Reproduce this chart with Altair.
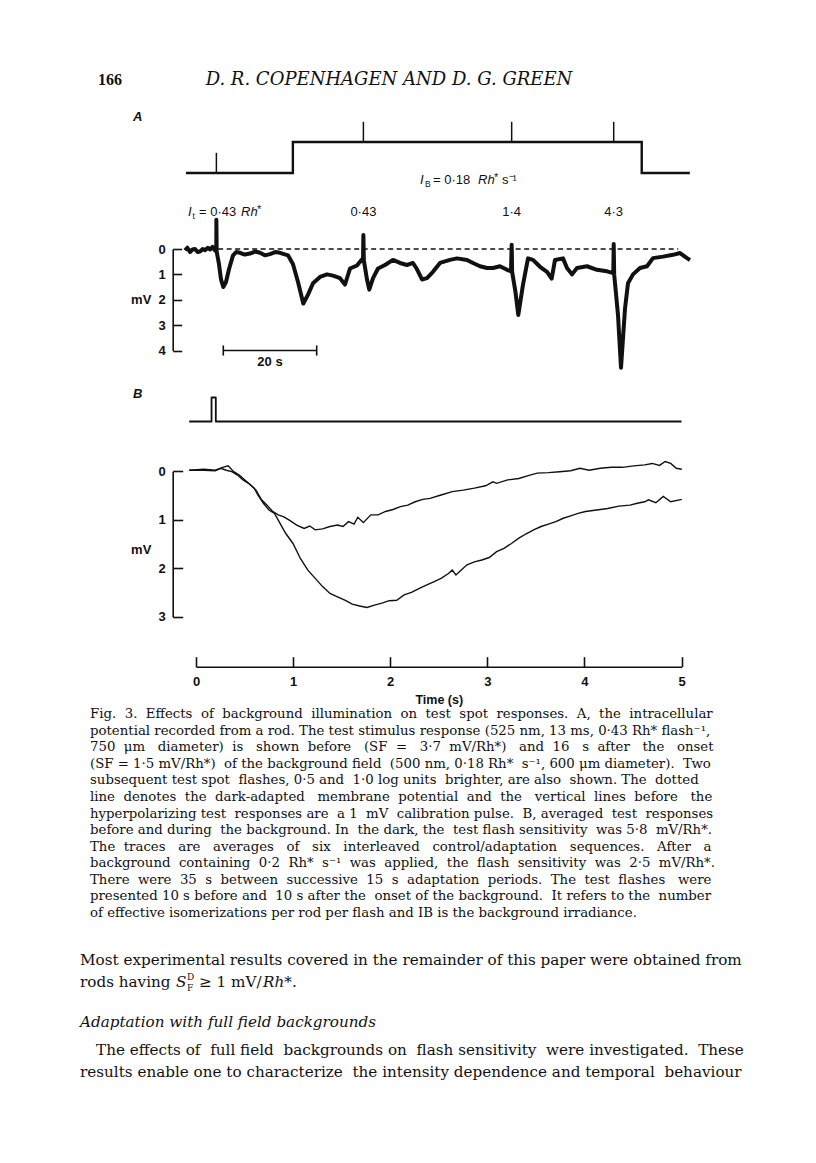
import altair as alt
import pandas as pd

# ---------------- data ----------------
# Panel A: stimulus protocol (time in s, level 0 = dark, 1 = background on)
a_stim_t = [0.2, 23.1, 23.1, 97.8, 97.8, 108.1]
a_stim_level = [0, 0, 1, 1, 0, 0]
# test flashes (time in s) and the stimulus level they sit on
a_flash_t = [6.72, 38.2, 69.95, 91.8]
a_flash_level = [0, 1, 1, 1]
a_flash_labels = ["", "0·43", "1·4", "4·3"]

# Panel A: intracellular recording (time s, hyperpolarisation mV, downward positive)
a_rec = [
    (0.0, 0.05), (0.5, -0.05), (1.07, 0.12), (1.6, 0.02), (2.14, 0.0), (2.7, 0.12),
    (3.21, 0.1), (3.8, 0.0), (4.28, 0.05), (4.9, -0.05), (5.35, 0.02), (5.9, -0.08),
    (6.42, 0.05), (6.7, 0.1), (6.72, -1.15), (6.78, 0.1),
    (7.28, 0.6), (7.71, 1.2), (8.2, 1.5), (8.78, 1.3), (9.42, 0.8), (10.28, 0.25),
    (11.0, 0.12), (11.78, 0.15), (12.8, 0.22), (13.92, 0.18), (15.0, 0.1), (16.06, 0.15),
    (17.1, 0.25), (18.2, 0.2), (19.3, 0.12), (20.34, 0.15), (21.2, 0.2), (22.06, 0.25),
    (23.13, 0.6), (24.2, 1.3), (25.33, 2.15), (26.34, 1.8), (27.41, 1.35), (28.91, 1.1),
    (30.41, 1.0), (31.69, 1.05), (33.19, 1.15), (34.26, 1.4), (35.33, 0.77), (36.83, 0.65),
    (37.69, 0.45), (38.12, 0.37), (38.2, -0.55), (38.3, 0.45),
    (38.97, 1.2), (39.46, 1.6), (40.26, 1.15), (41.33, 0.77), (42.83, 0.63), (44.54, 0.43),
    (46.04, 0.55), (47.54, 0.63), (48.82, 0.55), (49.68, 0.8), (50.75, 1.2), (51.82, 1.15),
    (53.1, 0.9), (54.6, 0.55), (56.75, 0.43), (58.24, 0.37), (60.39, 0.43), (61.67, 0.55),
    (63.17, 0.68), (64.67, 0.75), (65.95, 0.75), (67.45, 0.68), (68.95, 0.82), (69.81, 0.88),
    (69.95, -0.17), (70.05, 0.9),
    (70.77, 1.7), (71.37, 2.6), (72.38, 1.4), (73.45, 0.37), (74.52, 0.43), (76.02, 0.7),
    (77.52, 0.9), (78.52, 1.17), (79.23, 0.43), (80.94, 0.37), (81.8, 0.75), (82.87, 1.0),
    (83.94, 0.75), (86.08, 0.68), (88.22, 0.82), (90.36, 0.88), (91.71, 0.95),
    (91.8, -0.2), (91.9, 1.0),
    (92.72, 2.6), (93.36, 4.68), (94.22, 2.35), (94.86, 1.35), (95.93, 1.0), (97.43, 0.75),
    (98.93, 0.68), (100.21, 0.36), (102.36, 0.3), (104.5, 0.23), (106.0, 0.16),
    (107.5, 0.36), (108.14, 0.43),
]
a_dark_level = [(7.1, 105.6, 0.0)]          # dotted dark-adapted potential (from, to, mV)
a_scalebar = [(8.2, 28.2, 4.0, "20 s")]      # 20 s calibration bar
a_mv_ticks = [0, 1, 2, 3, 4]

# Panel B: flash stimulus marker (time s, level)
b_stim_t = [-0.07, 0.16, 0.16, 0.204, 0.204, 5.0]
b_stim_level = [0, 0, 1, 1, 0, 0]

# Panel B: averaged responses (time s, mV)
b_dark_t = [-0.069, 0.083, 0.198, 0.255, 0.312, 0.369, 0.427, 0.484, 0.541, 0.599, 0.637,
            0.694, 0.751, 0.808, 0.847, 0.923, 0.999, 1.075, 1.152, 1.228, 1.304, 1.380,
            1.457, 1.533, 1.609, 1.685, 1.762, 1.838, 1.914, 1.990, 2.067, 2.143, 2.219,
            2.295, 2.372, 2.448, 2.524, 2.600, 2.639, 2.677, 2.715, 2.791, 2.867, 2.944,
            3.020, 3.096, 3.172, 3.249, 3.325, 3.401, 3.477, 3.554, 3.630, 3.706, 3.782,
            3.859, 3.935, 4.011, 4.126, 4.240, 4.355, 4.469, 4.545, 4.621, 4.660, 4.736,
            4.812, 4.889, 5.003]
b_dark_mv = [-0.02, -0.04, -0.02, -0.06, -0.02, 0.01, 0.08, 0.18, 0.25, 0.35, 0.49,
             0.66, 0.80, 0.87, 1.01, 1.28, 1.49, 1.80, 2.04, 2.21, 2.38, 2.52,
             2.59, 2.66, 2.74, 2.78, 2.81, 2.76, 2.72, 2.67, 2.66, 2.55, 2.50,
             2.42, 2.35, 2.28, 2.21, 2.11, 2.04, 2.14, 2.07, 1.93, 1.87, 1.83,
             1.78, 1.66, 1.59, 1.49, 1.38, 1.29, 1.21, 1.14, 1.09, 1.04, 0.97,
             0.92, 0.87, 0.83, 0.80, 0.77, 0.72, 0.70, 0.66, 0.63, 0.59, 0.65,
             0.52, 0.63, 0.58]
b_bg_t = [-0.069, 0.083, 0.198, 0.274, 0.331, 0.388, 0.446, 0.503, 0.560, 0.618, 0.675,
          0.732, 0.789, 0.847, 0.904, 0.961, 1.037, 1.114, 1.171, 1.228, 1.304, 1.380,
          1.457, 1.514, 1.571, 1.628, 1.666, 1.724, 1.800, 1.876, 1.952, 2.029, 2.105,
          2.181, 2.257, 2.334, 2.410, 2.524, 2.639, 2.753, 2.867, 2.982, 3.058, 3.096,
          3.210, 3.325, 3.439, 3.515, 3.630, 3.744, 3.859, 3.954, 4.049, 4.164, 4.278,
          4.393, 4.507, 4.621, 4.698, 4.774, 4.831, 4.889, 4.946, 5.003]
b_bg_mv = [-0.02, -0.02, -0.01, -0.08, -0.11, 0.01, 0.08, 0.18, 0.28, 0.39, 0.59,
           0.70, 0.83, 0.90, 0.94, 1.01, 1.11, 1.18, 1.13, 1.21, 1.19, 1.14,
           1.11, 1.14, 1.04, 1.09, 0.95, 1.06, 0.90, 0.90, 0.83, 0.79, 0.73,
           0.70, 0.63, 0.58, 0.56, 0.49, 0.42, 0.39, 0.35, 0.30, 0.22, 0.25,
           0.18, 0.15, 0.08, 0.04, 0.03, 0.01, -0.01, -0.06, -0.02, -0.06, -0.08,
           -0.08, -0.11, -0.13, -0.16, -0.12, -0.20, -0.16, -0.06, -0.04]
b_mv_ticks = [0, 1, 2, 3]
b_time_ticks = [0, 1, 2, 3, 4, 5]

# ---------------- page text ----------------
page_number = "166"
running_head = "D. R. COPENHAGEN AND D. G. GREEN"
caption_lines = [
    "Fig. 3. Effects of background illumination on test spot responses. A, the intracellular",
    "potential recorded from a rod. The test stimulus response (525 nm, 13 ms, 0·43 Rh* flash⁻¹,",
    "750 μm diameter) is shown before (SF = 3·7 mV/Rh*) and 16 s after the onset",
    "(SF = 1·5 mV/Rh*) of the background field (500 nm, 0·18 Rh* s⁻¹, 600 μm diameter). Two",
    "subsequent test spot flashes, 0·5 and 1·0 log units brighter, are also shown. The dotted",
    "line denotes the dark-adapted membrane potential and the vertical lines before the",
    "hyperpolarizing test responses are a 1 mV calibration pulse. B, averaged test responses",
    "before and during the background. In the dark, the test flash sensitivity was 5·8 mV/Rh*.",
    "The traces are averages of six interleaved control/adaptation sequences. After a",
    "background containing 0·2 Rh* s⁻¹ was applied, the flash sensitivity was 2·5 mV/Rh*.",
    "There were 35 s between successive 15 s adaptation periods. The test flashes were",
    "presented 10 s before and 10 s after the onset of the background. It refers to the number",
    "of effective isomerizations per rod per flash and IB is the background irradiance.",
]
body_line1 = "Most experimental results covered in the remainder of this paper were obtained from"
body_line2 = ["rods having", "S", "D", "F", "≥ 1 mV/", "Rh*", "."]
heading = "Adaptation with full field backgrounds"
para_lines = [
    "The effects of full field backgrounds on flash sensitivity were investigated. These",
    "results enable one to characterize the intensity dependence and temporal behaviour",
]

# ---------------- layout / style ----------------
W, H = 800, 1147
OX, OY = 8, 8
INK = "#111111"
SANS = "Liberation Sans"
SERIF = "DejaVu Serif"
caption_extra_spaces = [12, 0, 23, 4, 5, 14, 7, 5, 19, 12, 14, 4, 0]   # justification
para_extra_spaces = [5, 2]


def justify(line, extra):
    """spread `extra` non-breaking spaces evenly over the word gaps"""
    words = line.split(" ")
    gaps = len(words) - 1
    out = words[0]
    for k in range(gaps):
        n = ((k + 1) * extra) // gaps - (k * extra) // gaps
        out += " " + "\u00a0" * n + words[k + 1]
    return out


def P(x):
    return x - OX


def Q(y):
    return y - OY


def lin(domain, r0, r1):
    return alt.Scale(domain=domain, range=[r0, r1], nice=False, zero=False)


def text(s, x, y, size, font=SANS, weight="normal", style="normal", align="left",
         baseline="middle"):
    return alt.Chart(pd.DataFrame({"s": [s]})).mark_text(
        align=align, baseline=baseline, fontSize=size, font=font,
        fontWeight=weight, fontStyle=style, color=INK,
    ).encode(text="s:N", x=alt.value(P(x)), y=alt.value(Q(y)))


# scales (data units -> page pixels)
xa = lin([0, 108], P(185), P(185 + 108 * 4.67))
ya_stim = lin([0, 1], Q(173), Q(142))
ya = lin([0, 4], Q(249), Q(350.5))
xb = lin([0, 5], P(196), P(681.5))
yb_stim = lin([0, 1], Q(421.5), Q(397.5))
yb = lin([0, 3], Q(471.2), Q(616.7))

charts = []

# ---- Panel A ----
df = pd.DataFrame({"t": a_stim_t, "level": a_stim_level, "i": range(len(a_stim_t))})
charts.append(alt.Chart(df).mark_line(color=INK, strokeWidth=2.4, strokeJoin="miter").encode(
    x=alt.X("t:Q", scale=xa, axis=None), y=alt.Y("level:Q", scale=ya_stim, axis=None),
    order="i:Q"))

df = pd.DataFrame({"t": a_flash_t, "level": a_flash_level})
charts.append(alt.Chart(df).transform_calculate(top="datum.level + 0.65").mark_rule(
    color=INK, strokeWidth=1.5).encode(
    x=alt.X("t:Q", scale=xa, axis=None), y=alt.Y("level:Q", scale=ya_stim, axis=None),
    y2="top:Q"))

df = pd.DataFrame({"t": a_flash_t, "lab": a_flash_labels})
charts.append(alt.Chart(df).mark_text(fontSize=13, font=SANS, color=INK, baseline="middle").encode(
    x=alt.X("t:Q", scale=xa, axis=None), y=alt.value(Q(211.7)), text="lab:N"))

df = pd.DataFrame({"x0": [r[0] for r in a_dark_level], "x1": [r[1] for r in a_dark_level],
                   "y": [r[2] for r in a_dark_level]})
charts.append(alt.Chart(df).mark_rule(color=INK, strokeWidth=1.5, strokeDash=[5, 3.5]).encode(
    x=alt.X("x0:Q", scale=xa, axis=None), x2="x1:Q",
    y=alt.Y("y:Q", scale=ya, axis=None)))

df = pd.DataFrame({"t": [p[0] for p in a_rec], "mv": [p[1] for p in a_rec],
                   "i": range(len(a_rec))})
axis_a = alt.Axis(orient="right", offset=P(172.7) - W, values=a_mv_ticks, grid=False,
                  tickSize=9, tickWidth=1.6, domainWidth=1.6, tickColor=INK, domainColor=INK,
                  labelPadding=-16.5, labelAlign="right", labelBaseline="middle",
                  labelFont=SANS, labelFontSize=13, labelFontWeight="bold", labelColor=INK,
                  labelFlush=False, labelOverlap=False,
                  title="mV", titleAngle=0, titleX=-32, titleY=Q(299.5), titleAlign="center",
                  titleBaseline="middle", titleFont=SANS, titleFontSize=13,
                  titleFontWeight="bold", titleColor=INK)
charts.append(alt.Chart(df).mark_line(color=INK, strokeWidth=4.0, strokeJoin="round").encode(
    x=alt.X("t:Q", scale=xa, axis=None), y=alt.Y("mv:Q", scale=ya, axis=axis_a),
    order="i:Q"))

df = pd.DataFrame({"x0": [r[0] for r in a_scalebar], "x1": [r[1] for r in a_scalebar],
                   "y": [r[2] for r in a_scalebar], "lab": [r[3] for r in a_scalebar]})
charts.append(alt.Chart(df).mark_rule(color=INK, strokeWidth=1.6).encode(
    x=alt.X("x0:Q", scale=xa, axis=None), x2="x1:Q", y=alt.Y("y:Q", scale=ya, axis=None)))
charts.append(alt.Chart(df).transform_fold(["x0", "x1"], as_=["k", "xe"]).transform_calculate(
    ya="datum.y - 0.2", yb="datum.y + 0.2").mark_rule(color=INK, strokeWidth=1.6).encode(
    x=alt.X("xe:Q", scale=xa, axis=None), y=alt.Y("ya:Q", scale=ya, axis=None), y2="yb:Q"))
charts.append(alt.Chart(df).transform_calculate(xm="(datum.x0 + datum.x1) / 2",
                                                yl="datum.y + 0.45").mark_text(
    fontSize=13, font=SANS, fontWeight="bold", color=INK, baseline="middle").encode(
    x=alt.X("xm:Q", scale=xa, axis=None), y=alt.Y("yl:Q", scale=ya, axis=None), text="lab:N"))

# labels of panel A
charts += [
    text("A", 133, 117, 13, weight="bold", style="italic"),
    text("I", 420, 179.5, 13, style="italic"),
    text("B", 425, 183.5, 8.5),
    text("= 0·18", 433, 179.5, 13),
    text("Rh", 478, 179.5, 13, style="italic"),
    text("*", 494, 178, 11),
    text("s⁻¹", 502, 179.5, 13),
    text("I", 188, 211.7, 13, style="italic"),
    text("t", 192.5, 215.5, 8.5),
    text("= 0·43", 199, 211.7, 13),
    text("Rh", 241, 211.7, 13, style="italic"),
    text("*", 257, 210, 11),
]

# ---- Panel B ----
charts.append(text("B", 133, 394, 13, weight="bold", style="italic"))
df = pd.DataFrame({"t": b_stim_t, "level": b_stim_level, "i": range(len(b_stim_t))})
charts.append(alt.Chart(df).mark_line(color=INK, strokeWidth=1.8, strokeJoin="round").encode(
    x=alt.X("t:Q", scale=xb, axis=None), y=alt.Y("level:Q", scale=yb_stim, axis=None),
    order="i:Q"))

axis_b = alt.Axis(orient="right", offset=P(172.7) - W, values=b_mv_ticks, grid=False,
                  tickSize=10, tickWidth=1.6, domainWidth=1.6, tickColor=INK, domainColor=INK,
                  labelPadding=-17.5, labelAlign="right", labelBaseline="middle",
                  labelFont=SANS, labelFontSize=13, labelFontWeight="bold", labelColor=INK,
                  labelFlush=False, labelOverlap=False,
                  title="mV", titleAngle=0, titleX=-32, titleY=Q(549), titleAlign="center",
                  titleBaseline="middle", titleFont=SANS, titleFontSize=13,
                  titleFontWeight="bold", titleColor=INK)
axis_t = alt.Axis(orient="top", offset=-Q(666.7), values=b_time_ticks, grid=False,
                  tickSize=10, tickWidth=1.6, domainWidth=1.6, tickColor=INK, domainColor=INK,
                  labelPadding=-25, labelBaseline="middle", labelAlign="center",
                  labelFont=SANS, labelFontSize=13, labelFontWeight="bold", labelColor=INK,
                  labelFlush=False, labelOverlap=False,
                  title="Time (s)", titleY=33, titleBaseline="middle", titleFont=SANS,
                  titleFontSize=12.5, titleFontWeight="bold", titleColor=INK)
df = pd.DataFrame({"t": b_dark_t, "mv": b_dark_mv})
charts.append(alt.Chart(df).mark_line(color=INK, strokeWidth=1.4).encode(
    x=alt.X("t:Q", scale=xb, axis=axis_t), y=alt.Y("mv:Q", scale=yb, axis=axis_b)))
df = pd.DataFrame({"t": b_bg_t, "mv": b_bg_mv})
charts.append(alt.Chart(df).mark_line(color=INK, strokeWidth=1.4).encode(
    x=alt.X("t:Q", scale=xb, axis=None), y=alt.Y("mv:Q", scale=yb, axis=None)))

# ---- page text ----
charts += [
    text(page_number, 98, 80, 16, font="Liberation Serif", weight="bold"),
    text(running_head, 389, 80, 18, font=SERIF, style="italic", align="center"),
]
df = pd.DataFrame({"s": [justify(s, n) for s, n in zip(caption_lines, caption_extra_spaces)],
                   "line": range(len(caption_lines))})
charts.append(alt.Chart(df).mark_text(align="left", baseline="middle", fontSize=13.3,
                                      font=SERIF, color=INK).encode(
    x=alt.value(P(90)), y=alt.Y("line:Q", scale=lin([0, 12], Q(714), Q(913)), axis=None),
    text="s:N"))
charts += [
    text(body_line1, 80, 960, 15.2, font=SERIF),
    text(body_line2[0], 80, 982, 15.2, font=SERIF),
    text(body_line2[1], 176, 982, 15.2, font=SERIF, style="italic"),
    text(body_line2[2], 187, 977, 9, font=SERIF),
    text(body_line2[3], 187, 987.5, 9, font=SERIF),
    text(body_line2[4], 199, 982, 15.2, font=SERIF),
    text(body_line2[5], 263, 982, 15.2, font=SERIF, style="italic"),
    text(body_line2[6], 292, 982, 15.2, font=SERIF),
    text(heading, 80, 1022, 15.2, font=SERIF, style="italic"),
    text(justify(para_lines[0], para_extra_spaces[0]), 96, 1050, 15.2, font=SERIF),
    text(justify(para_lines[1], para_extra_spaces[1]), 80, 1072, 15.2, font=SERIF),
]

chart = alt.layer(*charts).resolve_scale(x="independent", y="independent").properties(
    width=W, height=H, autosize=alt.AutoSizeParams(type="none"), padding=0,
    background="white",
).configure_view(stroke=None)

chart.save("out.html", embed_options={"renderer": "svg", "actions": False})
